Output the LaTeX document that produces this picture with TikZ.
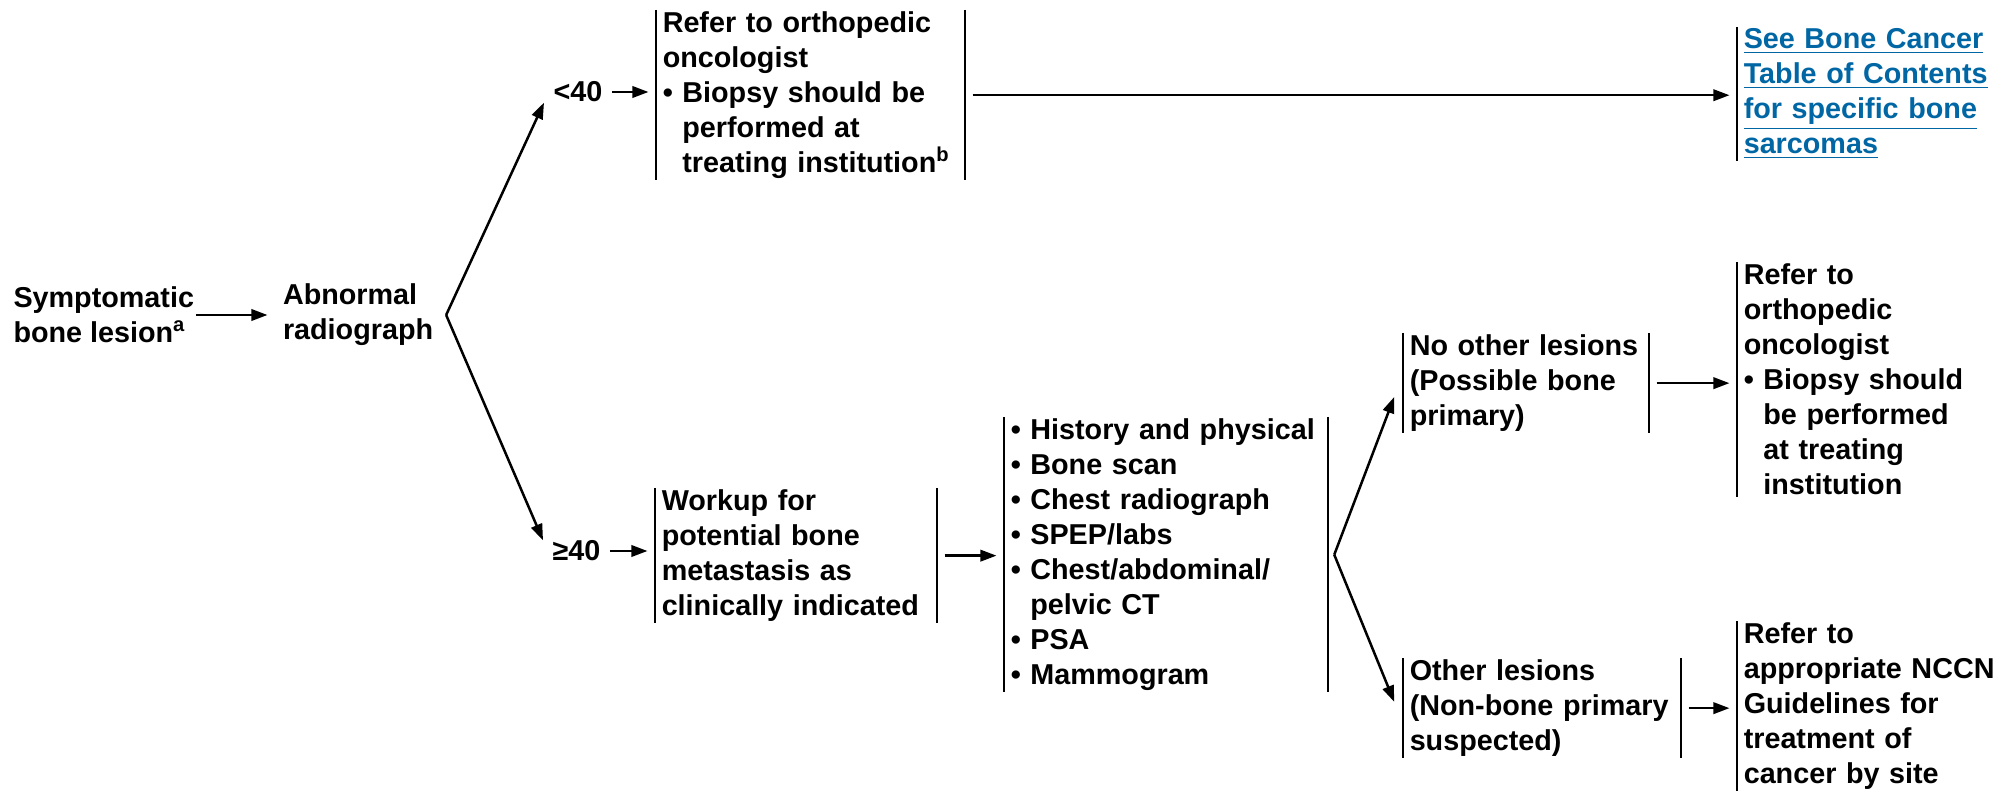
\documentclass[tikz,border=0pt]{standalone}
\usepackage{fontspec}
\setmainfont{Liberation Sans}
\usepackage{xcolor}
\usepackage{tikz}
\usetikzlibrary{arrows.meta,positioning}
\definecolor{nccnblue}{RGB}{0,102,164}
\newcommand{\chartfont}{\fontsize{11.5pt}{14pt}\selectfont\bfseries}

\begin{document}
\begin{tikzpicture}[x=0.4pt, y=-0.4pt, font=\chartfont,
    txt/.style={inner sep=0pt, align=left},
    box/.style={anchor=north west, align=left, inner xsep=2.5pt, inner ysep=0.5pt},
    bar/.style={line width=1pt},
    arr/.style={line width=1pt, -{Triangle[length=6.5pt,width=4.6pt]}, shorten <=3pt, shorten >=3pt},
    fork/.style={line width=1pt, -{Triangle[length=6.5pt,width=4.6pt]}}]
    \useasboundingbox (0,0) rectangle (2015,792);

    % Presentation
    \node[txt, anchor=west] (lesion) at (13,315) {Symptomatic\\bone lesion\textsuperscript{a}};
    \node[txt, anchor=west, inner xsep=5pt] (abnormal) at (270,315) {Abnormal\\radiograph};

    % Age split
    \node[txt, anchor=west, inner xsep=3.6pt] (lt40) at (544,92) {<40};
    \node[txt, anchor=west, inner xsep=3.6pt] (ge40) at (543,551) {≥40};

    % Boxes
    \node[box, text width=118.2pt] (top) at (656,10) {Refer to orthopedic\\oncologist\\• Biopsy should be\\\hphantom{• }performed at\\\hphantom{• }treating institution\textsuperscript{b}};
    \node[box, text width=105pt, text=nccnblue] (blue) at (1737,27) {\underline{See Bone Cancer}\\\underline{Table of Contents}\\\underline{for specific bone}\\\underline{sarcomas}};
    \node[box, text width=107.4pt] (workup) at (655,488) {Workup for\\potential bone\\metastasis as\\clinically indicated};
    \node[box, text width=124.2pt] (list) at (1004,417) {• History and physical\\• Bone scan\\• Chest radiograph\\• SPEP/labs\\• Chest/abdominal/\\\hphantom{• }pelvic CT\\• PSA\\• Mammogram};
    \node[box, text width=93pt] (noother) at (1403,333) {No other lesions\\(Possible bone\\primary)};
    \node[box, text width=104pt] (refer) at (1737,262) {Refer to\\orthopedic\\oncologist\\• Biopsy should\\\hphantom{• }be performed\\\hphantom{• }at treating\\\hphantom{• }institution};
    \node[box, text width=105.8pt] (other) at (1403,658) {Other lesions\\(Non-bone primary\\suspected)};
    \node[box, text width=104pt] (nccn) at (1737,621) {Refer to\\appropriate NCCN\\Guidelines for\\treatment of\\cancer by site};

    % Side bars
    \foreach \n in {top,blue,workup,list,noother,refer,other,nccn}
        \draw[bar] (\n.north west) -- (\n.south west);
    \foreach \n in {top,workup,list,noother,other}
        \draw[bar] (\n.north east) -- (\n.south east);

    % Connectors
    \draw[arr, shorten <=0.5pt, shorten >=1pt] (lesion.east) -- (abnormal.west);
    \draw[fork] (abnormal.east) -- (lt40.south west);
    \draw[fork] (abnormal.east) -- (ge40.north west);
    \draw[arr, shorten <=0pt] (lt40.east) -- (lt40.east -| top.west);
    \draw[arr] (top.east) -- (top.east -| blue.west);
    \draw[arr, shorten <=0pt] (ge40.east) -- (ge40.east -| workup.west);
    \draw[arr] (workup.east) -- (workup.east -| list.west);
    \draw[fork] ([xshift=2.5pt]list.east) -- ([xshift=-3.5pt,yshift=-5.5pt]noother.west);
    \draw[fork] ([xshift=2.5pt]list.east) -- ([xshift=-3.5pt,yshift=2.5pt]other.west);
    \draw[arr] (noother.east) -- (noother.east -| refer.west);
    \draw[arr] (other.east) -- (other.east -| nccn.west);
\end{tikzpicture}
\end{document}
